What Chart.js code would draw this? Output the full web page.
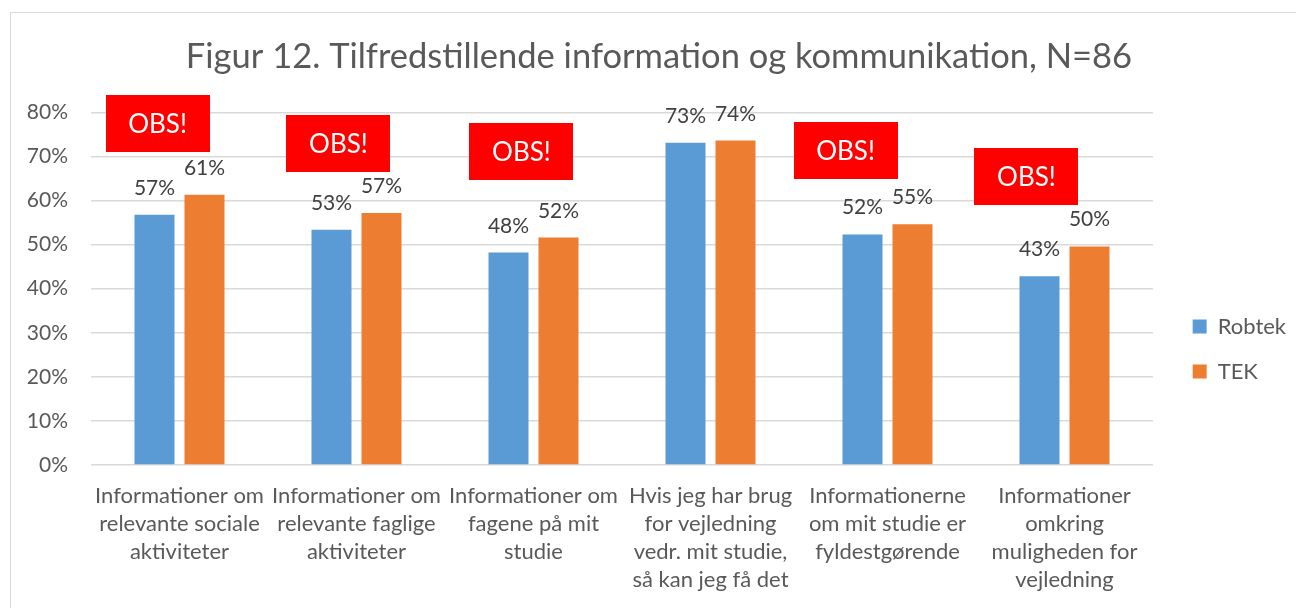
<!DOCTYPE html>
<html lang="da">
<head>
<meta charset="utf-8">
<title>Figur 12</title>
<script src="https://cdn.jsdelivr.net/npm/chart.js@4.4.1/dist/chart.umd.min.js"></script>
<style>
    html, body { margin: 0; padding: 0; background: #fff; overflow: hidden; }
    #wrap { position: relative; width: 1296px; height: 608px; }
    /* Excel-style chart frame, runs off the right and bottom edge */
    #frame { position: absolute; left: 10px; top: 12px; width: 1320px; height: 620px;
             border: 1px solid #d9d9d9; box-sizing: border-box; }
    #chart { position: absolute; left: 0; top: 0; }
</style>
</head>
<body>
<div id="wrap">
    <div id="frame"></div>
    <canvas id="chart" width="1296" height="608"></canvas>
</div>
<script>
// Chart data
const categories = [
    ['Informationer om', 'relevante sociale', 'aktiviteter'],
    ['Informationer om', 'relevante faglige', 'aktiviteter'],
    ['Informationer om', 'fagene på mit', 'studie'],
    ['Hvis jeg har brug', 'for vejledning', 'vedr. mit studie,', 'så kan jeg få det'],
    ['Informationerne', 'om mit studie er', 'fyldestgørende'],
    ['Informationer', 'omkring', 'muligheden for', 'vejledning']
];
const seriesNames = ['Robtek', 'TEK'];
const robtekValues = [56.8, 53.4, 48.2, 73.1, 52.3, 42.8];
const tekValues = [61.3, 57.2, 51.6, 73.6, 54.6, 49.6];
const yTicks = [0, 10, 20, 30, 40, 50, 60, 70, 80];

// "OBS!" notes: which category they sit over and their level (in %)
const obsCategory = [0, 1, 2, 4, 5];
const obsLevel = [77.4, 73.0, 71.2, 71.4, 65.5];
const obsText = 'OBS!';

const colors = {
    robtek: '#5b9bd5',
    tek: '#ed7d31',
    grid: '#d9d9d9',
    text: '#595959',
    label: '#404040',
    obs: '#ff0000'
};
const fontFamily = "Lato, 'Open Sans', sans-serif";

// Nudges the notes sideways, as a fraction of one category
const obsShift = [-0.124, -0.102, -0.068, -0.237, -0.215];

// Value labels above each bar
const barLabels = {
    id: 'barLabels',
    afterDatasetsDraw(chart) {
        const ctx = chart.ctx;
        ctx.save();
        ctx.font = `21px ${fontFamily}`;
        ctx.fillStyle = colors.label;
        ctx.textAlign = 'center';
        ctx.textBaseline = 'alphabetic';
        chart.data.datasets.forEach((ds, i) => {
            chart.getDatasetMeta(i).data.forEach((bar, j) => {
                ctx.fillText(Math.round(ds.data[j]) + '%', bar.x, bar.y - 20);
            });
        });
        ctx.restore();
    }
};

// Red OBS! boxes
const obsBoxes = {
    id: 'obsBoxes',
    afterDatasetsDraw(chart) {
        const { ctx, scales: { x, y } } = chart;
        const w = 104, h = 57;
        ctx.save();
        obsCategory.forEach((c, k) => {
            const cx = x.getPixelForValue(c + obsShift[k]);
            const cy = y.getPixelForValue(obsLevel[k]);
            ctx.fillStyle = colors.obs;
            ctx.fillRect(Math.round(cx - w / 2), Math.round(cy - h / 2), w, h);
            ctx.fillStyle = '#ffffff';
            ctx.font = `26px ${fontFamily}`;
            ctx.textAlign = 'center';
            ctx.textBaseline = 'middle';
            ctx.fillText(obsText, cx, cy + 1);
        });
        ctx.restore();
    }
};

// The legend sits lower than chart.js centres it, move it down a bit
const legendNudge = {
    id: 'legendNudge',
    afterLayout(chart) {
        const lg = chart.legend;
        if (!lg) return;
        lg.top += 45;
        lg.bottom += 45;
    }
};

new Chart(document.getElementById('chart'), {
    type: 'bar',
    data: {
        labels: categories,
        datasets: [{
            label: seriesNames[0],
            data: robtekValues,
            backgroundColor: colors.robtek,
            categoryPercentage: 0.565,
            barPercentage: 0.8
        }, {
            label: seriesNames[1],
            data: tekValues,
            backgroundColor: colors.tek,
            categoryPercentage: 0.565,
            barPercentage: 0.8
        }]
    },
    options: {
        responsive: false,
        animation: false,
        layout: { padding: { left: 22, right: 0, top: 0, bottom: 0 } },
        plugins: {
            title: {
                display: true,
                text: 'Figur 12. Tilfredstillende information og kommunikation, N=86',
                color: colors.text,
                font: { family: fontFamily, size: 34.5, weight: 'normal' },
                padding: { top: 36, bottom: 35 }
            },
            legend: {
                position: 'right',
                labels: {
                    boxWidth: 14,
                    boxHeight: 14,
                    padding: 23,
                    color: colors.text,
                    font: { family: fontFamily, size: 22 }
                }
            },
            tooltip: { enabled: false }
        },
        scales: {
            x: {
                grid: { display: false },
                border: { display: false },
                ticks: {
                    color: colors.text,
                    font: { family: fontFamily, size: 22, lineHeight: 1.27 },
                    padding: 9,
                    maxRotation: 0,
                    minRotation: 0,
                    autoSkip: false
                },
                afterFit: s => { s.height = 143; }
            },
            y: {
                min: yTicks[0],
                max: yTicks[yTicks.length - 1],
                grid: { color: colors.grid, lineWidth: 1.5, drawTicks: false },
                border: { display: false },
                ticks: {
                    stepSize: yTicks[1] - yTicks[0],
                    color: colors.text,
                    padding: 23,
                    font: { family: fontFamily, size: 21 },
                    callback: v => v + '%'
                },
                afterFit: s => { s.width = 69; }
            },
            // empty spacer between the plot and the legend
            gap: {
                type: 'linear',
                position: 'right',
                grid: { display: false },
                border: { display: false },
                ticks: { display: false },
                afterFit: s => {
                    const lw = s.chart.legend ? s.chart.legend.width : 0;
                    s.width = Math.max(0, 1296 - 1153 - lw);
                }
            }
        }
    },
    plugins: [barLabels, obsBoxes, legendNudge]
});
</script>
</body>
</html>
